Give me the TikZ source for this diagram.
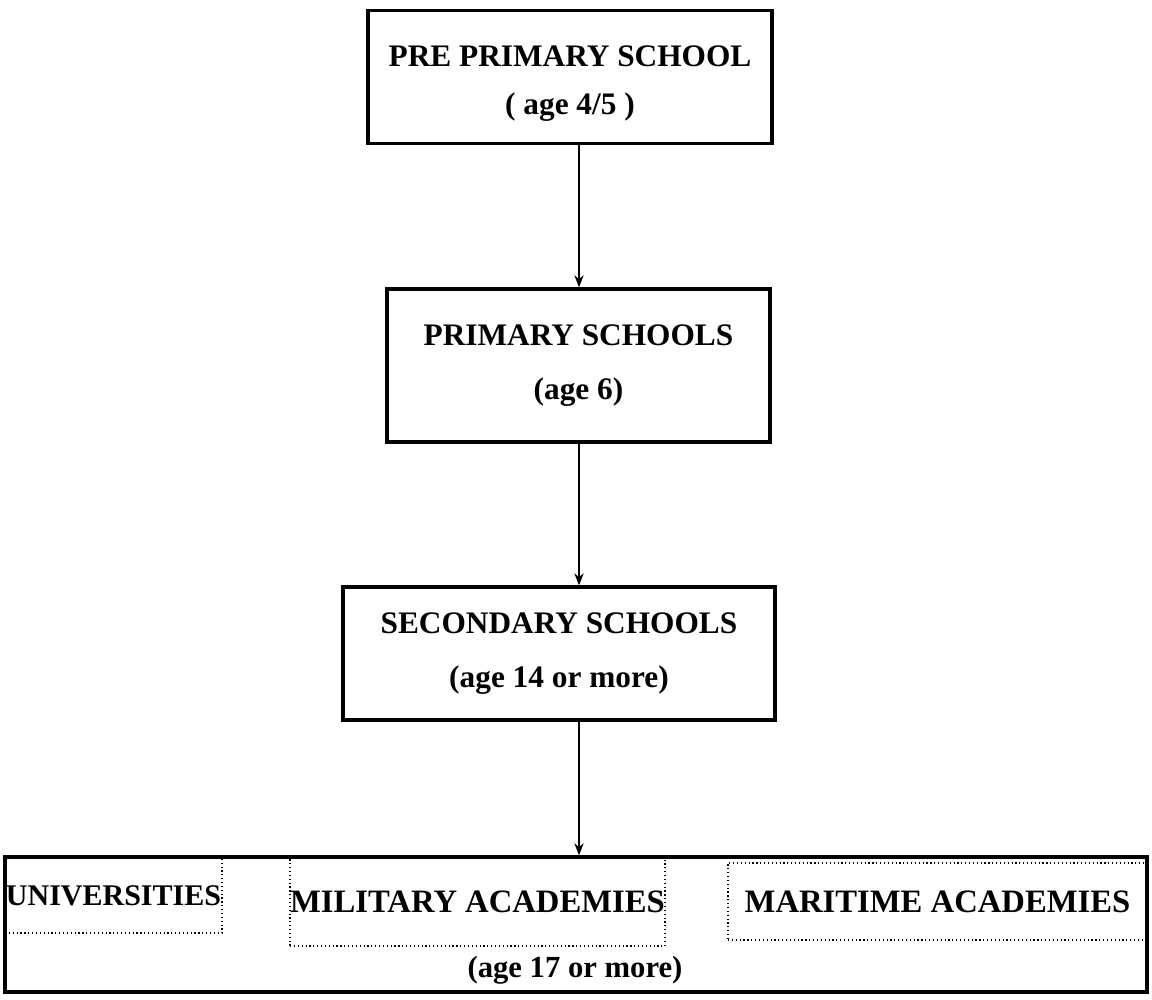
\documentclass[tikz,border=0pt]{standalone}
\usepackage{fontspec}
\setmainfont{Liberation Serif}
\usetikzlibrary{arrows.meta}
\tikzset{
  mainbox/.style={draw, line width=2.6pt, rectangle, inner sep=0pt, align=center,
    font=\fontsize{23.5}{40}\selectfont\bfseries},
  dotbox/.style={draw, line width=0.9pt, dotted, rectangle, inner sep=0pt,
    font=\fontsize{24.5}{29}\selectfont\bfseries},
  outerbox/.style={draw, line width=2.6pt, rectangle, inner sep=0pt},
  plain/.style={inner sep=0pt, font=\fontsize{23}{27}\selectfont\bfseries},
  arr/.style={line width=0.8pt, -{Stealth[length=9pt,width=7pt]}}
}
\begin{document}
\begin{tikzpicture}[x=0.75pt,y=-0.75pt]
\useasboundingbox (0,0) rectangle (1152,999);
\coordinate (axis) at (579,0);
\node[mainbox, minimum width=404*0.75pt, minimum height=133*0.75pt] (b1) at (570,77)
  {\rule{0pt}{26pt}PRE PRIMARY SCHOOL\\[-4pt]( age 4/5 )};
\node[mainbox, minimum width=383*0.75pt, minimum height=153*0.75pt] (b2) at (578.5,365.5)
  {PRIMARY SCHOOLS\\(age 6)};
\node[mainbox, minimum width=432*0.75pt, minimum height=133*0.75pt] (b3) at (559,653.5)
  {SECONDARY SCHOOLS\\(age 14 or more)};
\node[outerbox, minimum width=1142*0.75pt, minimum height=135*0.75pt] (b4) at (576,924.5) {};
\node[dotbox, font=\fontsize{22.5}{27}\selectfont\bfseries, minimum width=217*0.75pt, minimum height=75*0.75pt] (uni) at (113.5,895.5) {UNIVERSITIES};
\node[dotbox, minimum width=369*0.75pt, minimum height=88*0.75pt] (mil) at (477.5,902) {MILITARY ACADEMIES};
\node[dotbox, minimum width=419*0.75pt, minimum height=77*0.75pt] (mar) at (937.5,901.5) {MARITIME ACADEMIES};
\node[plain] (age) at (575,970) {(age 17 or more)};
\draw[arr] (b1.south -| axis) -- (b2.north -| axis);
\draw[arr] (b2.south -| axis) -- (b3.north -| axis);
\draw[arr] (b3.south -| axis) -- (b4.north -| axis);
\end{tikzpicture}
\end{document}
